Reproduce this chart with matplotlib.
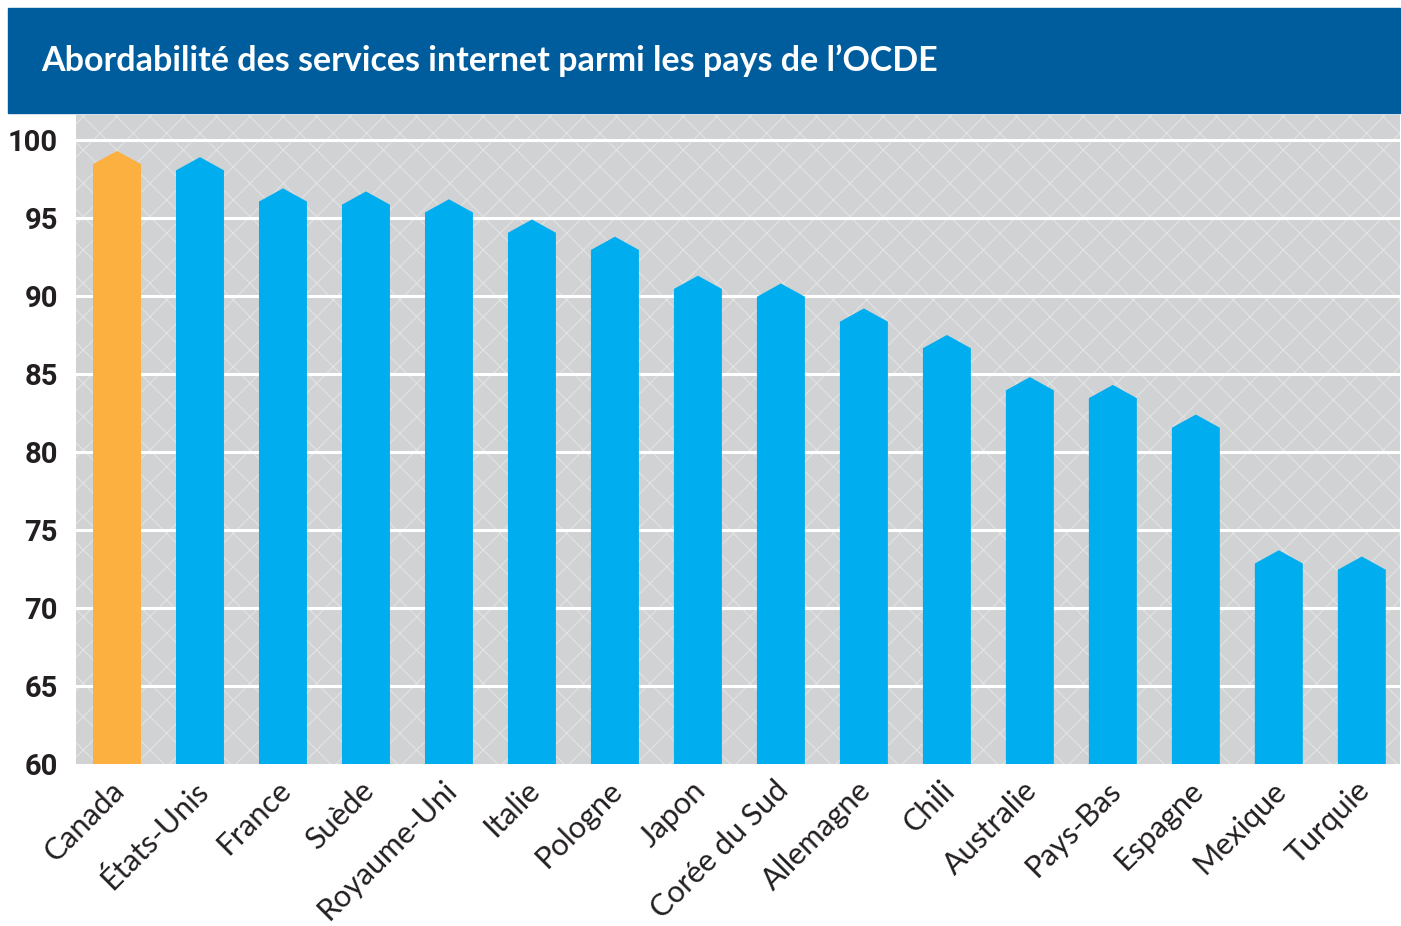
import matplotlib
matplotlib.use("Agg")
import matplotlib.pyplot as plt
from matplotlib.patches import Rectangle, Polygon
from matplotlib.transforms import ScaledTranslation

COUNTRIES = ["Canada", "États-Unis", "France", "Suède", "Royaume-Uni", "Italie",
             "Pologne", "Japon", "Corée du Sud", "Allemagne", "Chili", "Australie",
             "Pays-Bas", "Espagne", "Mexique", "Turquie"]
SCORES = [99.3, 98.9, 96.9, 96.7, 96.2, 94.9, 93.8, 91.3, 90.8, 89.2, 87.5,
          84.8, 84.3, 82.4, 73.7, 73.3]
HIGHLIGHT = "Canada"
YTICKS = [60, 65, 70, 75, 80, 85, 90, 95, 100]
TITLE = "Abordabilité des services internet parmi les pays de l’OCDE"

BLUE = "#00AEEF"
ORANGE = "#FBB040"
BANNER = "#005D9D"
BG = "#D1D2D4"
INK = "#231F20"

W, H = 1401, 926
fig = plt.figure(figsize=(W / 100, H / 100), dpi=100)

# title banner
fig.patches.append(Rectangle((8 / W, 1 - 113 / H), 1392 / W, 105 / H,
                             transform=fig.transFigure, color=BANNER, zorder=0))
fig.text(41 / W, 1 - 61 / H, TITLE, color="white", fontsize=24.5,
         family="Lato", weight="bold", va="center", ha="left")

ax = fig.add_axes([76 / W, 1 - 764 / H, 1324 / W, 649 / H])
ax.set_xlim(-0.494, 15.46)
ax.set_ylim(60, 101.6)

# hatched grey background
plt.rcParams["hatch.linewidth"] = 0.8
ax.add_patch(Rectangle((0, 0), 1, 1, transform=ax.transAxes, facecolor=BG,
                       edgecolor="#E2E3E4", hatch="x", lw=0, zorder=0))
for t in YTICKS[1:]:
    ax.axhline(t, color="white", lw=2.2, zorder=1)

bw = 0.578
roof = 0.85
for i, (name, v) in enumerate(zip(COUNTRIES, SCORES)):
    c = ORANGE if name == HIGHLIGHT else BLUE
    pts = [(i - bw / 2, 60), (i - bw / 2, v - roof), (i, v),
           (i + bw / 2, v - roof), (i + bw / 2, 60)]
    ax.add_patch(Polygon(pts, closed=True, facecolor=c, edgecolor="none", zorder=2))

for s in ax.spines.values():
    s.set_visible(False)
ax.set_yticks(YTICKS)
ax.set_yticklabels([str(t) for t in YTICKS], fontsize=21, weight="bold",
                   family="Roboto", color=INK)
ax.set_xticks(range(len(COUNTRIES)))
ax.set_xticklabels(COUNTRIES, rotation=45, ha="right", va="top",
                   rotation_mode="anchor", fontsize=22, family="Lato", color=INK)
ax.tick_params(axis="both", length=0)
ax.tick_params(axis="y", pad=13)
ax.tick_params(axis="x", pad=10)
shift = ScaledTranslation(-7 / 100, 2 / 100, fig.dpi_scale_trans)
for lbl in ax.get_xticklabels():
    lbl.set_transform(lbl.get_transform() + shift)

fig.savefig("out.png", dpi=100)
